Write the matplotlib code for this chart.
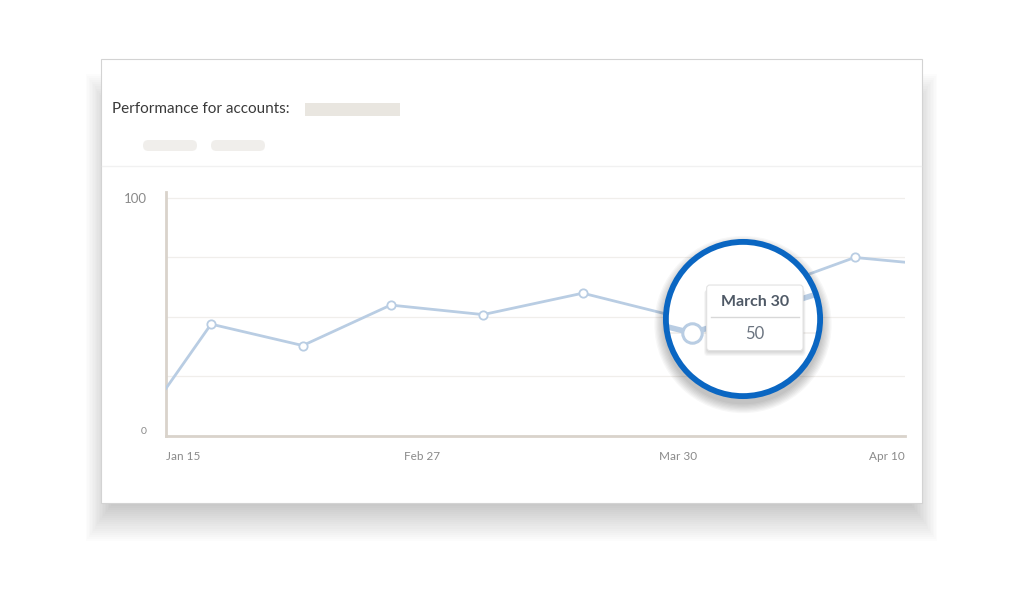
import matplotlib
matplotlib.use("Agg")
import matplotlib.pyplot as plt
from matplotlib.patches import Rectangle, FancyBboxPatch, Circle
from matplotlib.lines import Line2D

plt.rcParams['font.family'] = ['Lato', 'DejaVu Sans']

# --- data (x on a 0-100 timeline scale, y = performance) ---
x_pos = [0, 6.1, 18.5, 30.4, 42.9, 56.4, 69.3, 81.7, 93.2, 100]
values = [20, 47, 38, 55, 51, 60, 50, 62, 75, 73]
tick_pos = [0, 34.6, 69.3, 100]
tick_labels = ['Jan 15', 'Feb 27', 'Mar 30', 'Apr 10']
y_ticks = [0, 25, 50, 75, 100]
y_labels = ['0', '', '', '', '100']
focus_idx = 6
focus_label = 'March 30'

W, H = 1024, 607
LINE_C = '#b9cde3'
AXIS_C = '#d9d3cb'
GRID_C = '#f0eeeb'
BLUE = '#0a66c2'


def fx(px):
    return px / W


def fy(py):
    return 1 - py / H


fig = plt.figure(figsize=(W / 100, H / 100), dpi=100)
fig.patch.set_facecolor('white')

# --- card shadow + card ---
n = 26
for i in range(n):
    e = 26 - 52 * i / (n - 1)
    x0, x1 = 104 - e * 0.7, 919 + e * 0.7
    y0, y1 = 100 - e, 515 + e
    fig.patches.append(Rectangle((fx(x0), fy(y1)), fx(x1 - x0), (y1 - y0) / H,
                                 transform=fig.transFigure, facecolor='black',
                                 edgecolor='none', alpha=0.011, zorder=0))
fig.patches.append(Rectangle((fx(101), fy(503)), fx(821), 444 / H,
                             transform=fig.transFigure, facecolor='white',
                             edgecolor='#d3d3d3', linewidth=0.8, zorder=1))

# header
fig.text(fx(112), fy(109), 'Performance for accounts:', fontsize=11,
         color='#3a3a3a', va='center', ha='left', zorder=3)
fig.patches.append(Rectangle((fx(305), fy(116)), fx(95), 13 / H,
                             transform=fig.transFigure, facecolor='#e9e6e0',
                             edgecolor='none', zorder=2))
for px0 in [143, 211]:
    fig.patches.append(FancyBboxPatch((fx(px0), fy(151)), fx(54), 11 / H,
                                      boxstyle='round,pad=0.0,rounding_size=0.0053',
                                      transform=fig.transFigure,
                                      facecolor='#f0eeeb', edgecolor='none',
                                      mutation_aspect=W / H, zorder=2))
fig.lines.append(Line2D([fx(102), fx(921)], [fy(166), fy(166)],
                        transform=fig.transFigure, color='#f1f1f1',
                        linewidth=1, zorder=2))

# --- main chart ---
ax = fig.add_axes([fx(166), fy(436), fx(739), 244 / H], zorder=3)
ax.set_facecolor('none')
ax.plot(x_pos, values, color=LINE_C, linewidth=2, zorder=3)
ax.plot(x_pos[1:-1], values[1:-1], linestyle='none', marker='o', markersize=6,
        markerfacecolor='white', markeredgecolor=LINE_C, markeredgewidth=1.3,
        zorder=4)
ax.set_xlim(0, 100)
ax.set_ylim(0, 102.5)
ax.set_yticks(y_ticks)
ax.set_yticklabels(y_labels)
ax.set_xticks(tick_pos)
ax.set_xticklabels(tick_labels)
for lbl, ha in zip(ax.get_xticklabels(), ['left', 'center', 'center', 'right']):
    lbl.set_ha(ha)
ax.tick_params(axis='both', length=0, colors='#8a8a8a')
ax.tick_params(axis='x', labelsize=8.5, pad=11)
ax.tick_params(axis='y', labelsize=9.5, pad=14)
ax.get_yticklabels()[0].set_fontsize(7.5)
ax.get_yticklabels()[0].set_va('bottom')
ax.grid(axis='y', color=GRID_C, linewidth=0.9)
ax.set_axisbelow(True)
for s in ['top', 'right']:
    ax.spines[s].set_visible(False)
for s in ['left', 'bottom']:
    ax.spines[s].set_color(AXIS_C)
    ax.spines[s].set_linewidth(2)

# --- magnifier around the focus point ---
cx, cy, r = 743, 319, 79
ax_in = fig.add_axes([fx(cx - r), fy(cy + r), fx(2 * r), 2 * r / H], zorder=5)
ax_in.set_axis_off()
ax_in.patch.set_visible(False)
zoom = 2.4
sx = 739 / 100 * zoom
sy = 244 / 102.5 * zoom
mx, my = 692, 333
xl = x_pos[focus_idx] - (mx - (cx - r)) / sx
yl = values[focus_idx] - ((cy + r) - my) / sy
ax_in.set_xlim(xl, xl + 2 * r / sx)
ax_in.set_ylim(yl, yl + 2 * r / sy)

for k in range(8):
    ax_in.add_patch(Circle((0.5, 0.5 - 0.035), 0.5 + 0.005 + k * 0.008,
                           transform=ax_in.transAxes, facecolor='black',
                           edgecolor='none', alpha=0.03, clip_on=False, zorder=0))
clip = Circle((0.5, 0.5), 0.5, transform=ax_in.transAxes, facecolor='white',
              edgecolor='none', zorder=1)
ax_in.add_patch(clip)
for yv in y_ticks[1:-1]:
    gl = ax_in.axhline(yv, color=GRID_C, linewidth=1.2, zorder=2)
    gl.set_clip_path(clip)
ln, = ax_in.plot(x_pos, values, color=LINE_C, linewidth=4, zorder=3)
ln.set_clip_path(clip)
mk, = ax_in.plot([x_pos[focus_idx]], [values[focus_idx]], marker='o',
                 markersize=14, markerfacecolor='white', markeredgecolor=LINE_C,
                 markeredgewidth=2.2, zorder=4)
mk.set_clip_path(clip)

# tooltip
tb = FancyBboxPatch((0.27, 0.30), 0.61, 0.415, transform=ax_in.transAxes,
                    boxstyle='round,pad=0.0,rounding_size=0.02',
                    facecolor='white', edgecolor='#e2e2e2', linewidth=0.8,
                    zorder=6)
ax_in.add_patch(tb)
for k in range(5):
    ax_in.add_patch(FancyBboxPatch((0.27 - 0.004 * k, 0.29 - 0.006 * k),
                                   0.61 + 0.008 * k, 0.415,
                                   transform=ax_in.transAxes,
                                   boxstyle='round,pad=0.0,rounding_size=0.02',
                                   facecolor='black', edgecolor='none',
                                   alpha=0.03, zorder=5))
ax_in.text(0.575, 0.608, focus_label, transform=ax_in.transAxes, ha='center',
           va='center', fontsize=11.5, fontweight='bold', color='#4f5966', zorder=7)
ax_in.plot([0.295, 0.855], [0.513, 0.513], transform=ax_in.transAxes,
           color='#d8d8d8', linewidth=1, zorder=7)
ax_in.text(0.575, 0.405, str(values[focus_idx]), transform=ax_in.transAxes,
           ha='center', va='center', fontsize=12, color='#6b7480', zorder=7)

# blue ring
ax_in.add_patch(Circle((0.5, 0.5), 0.5 - 0.012, transform=ax_in.transAxes,
                       facecolor='none', edgecolor=BLUE, linewidth=4.2,
                       clip_on=False, zorder=8))

fig.savefig('out.png', dpi=100, facecolor='white')
